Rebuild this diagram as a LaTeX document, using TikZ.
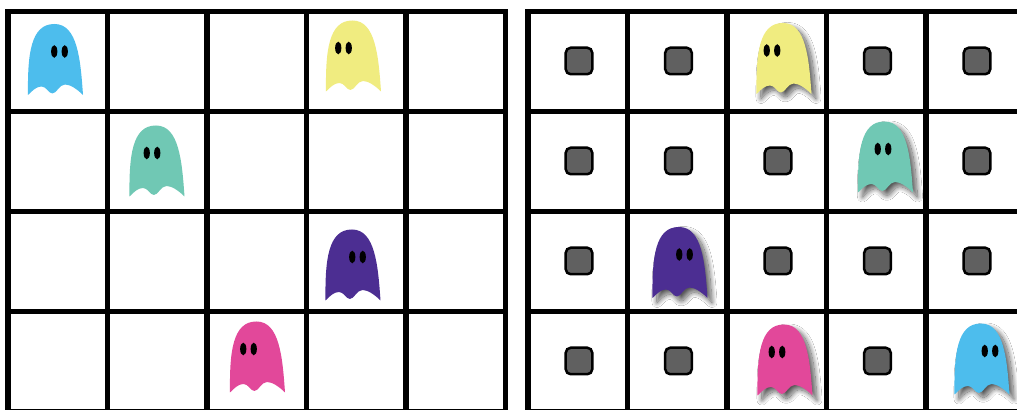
\documentclass[tikz,border=0pt]{standalone}
\usetikzlibrary{shadows.blur}

\definecolor{ghostblue}{RGB}{77,189,237}
\definecolor{ghostyellow}{RGB}{240,236,128}
\definecolor{ghostteal}{RGB}{112,200,180}
\definecolor{ghostpurple}{RGB}{76,46,146}
\definecolor{ghostpink}{RGB}{226,72,154}
\definecolor{tilegray}{RGB}{96,96,96}

% ghost: #1 = body colour, #2 = horizontal shift of the eyes
\tikzset{
  every ghost/.style={},
  pics/ghost/.style 2 args={code={
    \path[every ghost, fill=#1] (-27.5,-35.5)
      .. controls (-23,-31) and (-19,-27) .. (-14,-27)
      .. controls (-9,-27) and (-7,-34) .. (-3,-34)
      .. controls (1,-34) and (4,-25) .. (9.5,-25)
      .. controls (15,-25) and (22,-30) .. (27.5,-35.5)
      .. controls (25,0) and (22,35.5) .. (-1,35.5)
      .. controls (-25,35.5) and (-28,5) .. (-27.5,-35.5) -- cycle;
    \fill[black] ({#2-5.25},8) ellipse [x radius=0.031cm, y radius=0.063cm];
    \fill[black] ({#2+5.25},8) ellipse [x radius=0.031cm, y radius=0.063cm];
  }}
}

\begin{document}
\begin{tikzpicture}[
  x=0.01cm, y=0.01cm,
  gridline/.style={line width=0.05cm, line cap=rect},
  tile/.style={draw, fill=tilegray, line width=0.025cm, rounded corners=0.05cm,
    minimum size=0.265cm, inner sep=0pt},
  shadowed/.style={every ghost/.style={blur shadow={shadow xshift=0.045cm,
    shadow yshift=-0.045cm, shadow blur radius=0.05cm, shadow blur steps=24,
    shadow opacity=65}}}
]
\fill[white] (0,0) rectangle (1017,410);
\useasboundingbox (0,0) rectangle (1017,410);
\clip (0,0) rectangle (1017,410);

% left board
\foreach \i in {0,...,5}
  \draw[gridline] (8+99.5*\i,-3) -- (8+99.5*\i,398);
\foreach \j in {0,...,4}
  \draw[gridline] (8,398-100*\j) -- (505.5,398-100*\j);

\pic at (55.5,350.5) {ghost={ghostblue}{4}};
\pic at (353.5,354)  {ghost={ghostyellow}{-10}};
\pic at (157,249)    {ghost={ghostteal}{-5}};
\pic at (353,145)    {ghost={ghostpurple}{4.5}};
\pic at (257.5,53)   {ghost={ghostpink}{-9}};

% right board
\foreach \i in {0,...,5}
  \draw[gridline] (528+99.5*\i,-3) -- (528+99.5*\i,398);
\foreach \j in {0,...,4}
  \draw[gridline] (528,398-100*\j) -- (1025.5,398-100*\j);

% tiles in the free cells
\foreach \c/\r in {0/0,1/0,3/0,4/0, 0/1,1/1,2/1,4/1, 0/2,2/2,3/2,4/2, 0/3,1/3,3/3}
  \node[tile] (tile-\c-\r) at (579+99.5*\c,349-100*\r) {};

\begin{scope}[shadowed]
  \pic at (784,351.5) {ghost={ghostyellow}{-12}};
  \pic at (885.5,253) {ghost={ghostteal}{-2.5}};
  \pic at (680,147.5) {ghost={ghostpurple}{4.5}};
  \pic at (785,50)    {ghost={ghostpink}{-8}};
  \pic at (982,51)    {ghost={ghostblue}{8}};
\end{scope}

\end{tikzpicture}
\end{document}
